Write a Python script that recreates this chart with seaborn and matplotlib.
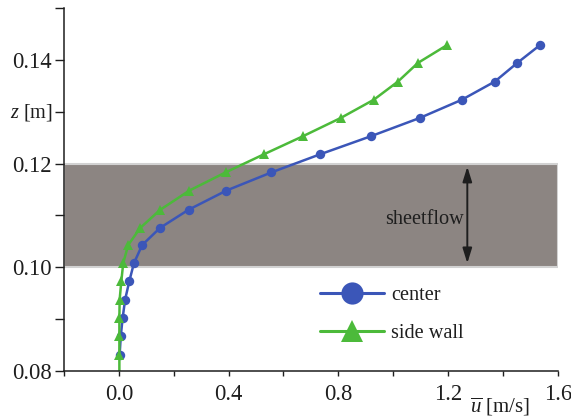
import numpy as np
import pandas as pd
import seaborn as sns
import matplotlib.pyplot as plt
from matplotlib.transforms import blended_transform_factory

# Measurement heights above the flume bottom [m]
z_levels = [0.0832, 0.0867, 0.0903, 0.0938, 0.0973, 0.1008, 0.1043, 0.1076, 0.1111,
            0.1148, 0.1183, 0.1218, 0.1253, 0.1288, 0.1323, 0.1358, 0.1394, 0.1428]

# Time-averaged streamwise velocity [m/s]
u_center = [0.003, 0.007, 0.014, 0.023, 0.038, 0.055, 0.085, 0.150, 0.254,
            0.392, 0.556, 0.734, 0.920, 1.097, 1.250, 1.370, 1.452, 1.534]
u_side = [0.002, 0.002, 0.002, 0.003, 0.009, 0.016, 0.034, 0.078, 0.151,
          0.257, 0.389, 0.529, 0.672, 0.809, 0.929, 1.017, 1.090, 1.195]

# the side-wall profile is continued down to the bed
z_bed = 0.08
u_side_bed = 0.002

series_names = ["center", "side wall"]
series_colors = ["#3b56b8", "#4cba3a"]

sheet_band = (0.10, 0.12)
sheet_label = "sheetflow"
arrow_u = 1.27

x_ticks = [-0.2, 0.0, 0.2, 0.4, 0.6, 0.8, 1.0, 1.2, 1.4, 1.6]
x_ticklabels = ["", "0.0", "", "0.4", "", "0.8", "", "1.2", "", "1.6"]
y_ticks = [0.08, 0.09, 0.10, 0.11, 0.12, 0.13, 0.14, 0.15]
y_ticklabels = ["0.08", "", "0.10", "", "0.12", "", "0.14", ""]

sns.set_theme(style="ticks")
plt.rcParams["font.family"] = ["Liberation Serif", "DejaVu Serif"]
plt.rcParams["mathtext.fontset"] = "custom"
plt.rcParams["mathtext.rm"] = "Liberation Serif"
plt.rcParams["mathtext.it"] = "Liberation Serif:italic"

ink = "#1e1e1e"

df = pd.concat([
    pd.DataFrame({"u": u_center, "z": z_levels, "location": series_names[0]}),
    pd.DataFrame({"u": [u_side_bed] + u_side, "z": [z_bed] + z_levels,
                  "location": series_names[1]}),
], ignore_index=True)

fig = plt.figure(figsize=(5.71, 4.17), dpi=100)
ax = fig.add_axes([0.112, 0.110, 0.865, 0.871])

ax.axhspan(*sheet_band, facecolor="#8c8582", edgecolor="#d2d2d2", lw=1.5, zorder=0)

sns.lineplot(data=df, x="u", y="z", hue="location", style="location",
             hue_order=series_names, style_order=series_names,
             palette=dict(zip(series_names, series_colors)),
             markers={"center": "o", "side wall": "^"}, dashes=False,
             sort=False, estimator=None, lw=1.8, markersize=6.8,
             markeredgewidth=0, ax=ax)

# no marker on the bed point of the side-wall profile
side_line = ax.lines[1]
side_line.set_markevery(list(range(1, len(u_side) + 1)))
side_line.set_markersize(7.4)

# sheet-flow layer thickness
ax.annotate("", xy=(arrow_u, 0.1194), xytext=(arrow_u, 0.1008),
            arrowprops=dict(arrowstyle="<|-|>,head_length=0.9,head_width=0.28",
                            color=ink, lw=1.4, shrinkA=0, shrinkB=0,
                            mutation_scale=10))
ax.text(1.257, 0.1084, sheet_label, ha="right", va="baseline",
        fontsize=14.6, color=ink)

ax.set_xlim(-0.2, 1.6)
ax.set_ylim(0.08, 0.15)
ax.set_xticks(x_ticks, x_ticklabels)
ax.set_yticks(y_ticks, y_ticklabels)
ax.tick_params(axis="x", length=3.5, width=1, pad=6, labelsize=16.3,
               color=ink, labelcolor=ink, direction="out")
ax.tick_params(axis="y", length=6.5, width=1, pad=2, labelsize=16.3,
               color=ink, labelcolor=ink, direction="out")
ax.set_xlabel("")
ax.set_ylabel("")
sns.despine(ax=ax)
for s in ("left", "bottom"):
    ax.spines[s].set_color(ink)
    ax.spines[s].set_linewidth(1.1)

# axis titles sit in the tick-label rows
ax.text(-0.022, 0.1298, r"$z$ [m]", transform=blended_transform_factory(ax.transAxes, ax.transData),
        ha="right", va="center", fontsize=14.6, color=ink)
ax.text(1.388, -0.115, r"$\overline{u}$ [m/s]",
        transform=blended_transform_factory(ax.transData, ax.transAxes),
        ha="center", va="baseline", fontsize=15, color=ink)

old = ax.get_legend()
handles = list(old.legend_handles)
labels = [t.get_text() for t in old.get_texts()]
old.remove()
for h in handles:
    h.set_markersize(16)
    h.set_linewidth(2.2)
ax.legend(handles, labels, loc="upper left", bbox_to_anchor=(0.561, 0.315),
          bbox_transform=fig.transFigure, frameon=False, fontsize=14.6,
          handlelength=3.15, handletextpad=0.35, labelspacing=0.95,
          borderpad=0, borderaxespad=0, labelcolor=ink)

fig.savefig("out.png", dpi=100)
